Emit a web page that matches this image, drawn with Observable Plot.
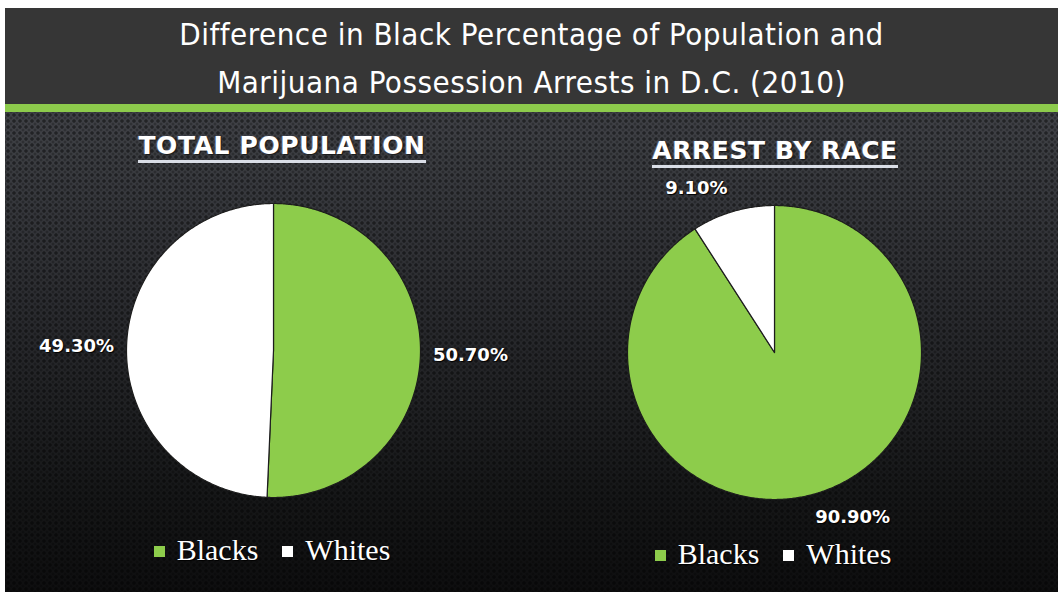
<!DOCTYPE html>
<html>
<head>
<meta charset="utf-8">
<script src="https://cdn.jsdelivr.net/npm/d3@7"></script>
<script src="https://cdn.jsdelivr.net/npm/@observablehq/plot@0.6"></script>
<style>
  html, body { margin: 0; padding: 0; background: #ffffff; width: 1058px; height: 592px; overflow: hidden; }
  #frame { position: absolute; left: 5px; top: 8px; width: 1053px; height: 584px; overflow: hidden; }
  #header { position: absolute; left: 0; top: 0; width: 100%; height: 96px; background: #363636; }
  #header .t { position: absolute; left: 0; width: 100%; text-align: center; color: #fff;
    font-family: "Liberation Sans Narrow", "DejaVu Sans Condensed", Roboto, sans-serif; font-stretch: condensed;
    font-size: 31px; letter-spacing: 0.5px; }
  #greenbar { position: absolute; left: 0; top: 96px; width: 100%; height: 8px; background: #8dcb4c; }
  #bg { position: absolute; left: 0; top: 104px; width: 100%; height: 480px;
    background-image:
      radial-gradient(circle, rgba(0,0,0,0.45) 1.3px, rgba(0,0,0,0) 2.2px),
      radial-gradient(circle, rgba(0,0,0,0.25) 1.0px, rgba(0,0,0,0) 1.8px),
      linear-gradient(#404247 0%, #2b2c30 40%, #161718 80%, #0e0e0f 100%);
    background-size: 6px 6px, 6px 6px, 100% 100%;
    background-position: 0 0, 3px 3px, 0 0; }
  .sect { position: absolute; width: 440px; text-align: center; }
  .sect span { color: #fff; font-family: "DejaVu Sans", sans-serif; font-weight: bold; font-size: 25px;
    letter-spacing: 0.6px; border-bottom: 3px solid #d9dde6; padding-bottom: 0px;
    text-shadow: 1px 1px 1px #1a1a1a, -1px 0 1px rgba(120,140,200,0.6); }
  .legend { position: absolute; width: 400px; text-align: center; color: #fff;
    font-family: "Liberation Serif", "DejaVu Serif", serif; font-size: 30px;
    text-shadow: 1px 1px 1px #000; }
  .legend .sw { display: inline-block; width: 11px; height: 11px; margin-right: 12px; vertical-align: 3px; }
  .legend .item { margin: 0 12px; }
  #chart { position: absolute; left: 0; top: 0; }
  #chart text { text-shadow: 1px 1px 1px #000; }
</style>
</head>
<body>
<div id="frame">
  <div id="header"></div>
  <div id="greenbar"></div>
  <div id="bg"></div>
</div>
<div id="chart"></div>
<script>
// ---- data ----
const chartTitles = ["Difference in Black Percentage of Population and", "Marijuana Possession Arrests in D.C. (2010)"];
const pieNames = ["TOTAL POPULATION", "ARREST BY RACE"];
const races = ["Blacks", "Whites"];
const populationShare = [50.7, 49.3];
const arrestShare = [90.9, 9.1];
const raceColors = ["#8dcc4b", "#ffffff"];

// ---- layout (page pixels) ----
const layout = [
  {cx: 273, cy: 350, r: 147, labelR: 1.34, labelRotate: 0, titleX: 282, titleY: 131, legendX: 272, legendY: 533},
  {cx: 774, cy: 352, r: 147, labelR: 1.24, labelRotate: -9, titleX: 775, titleY: 136, legendX: 773, legendY: 537}
];
const W = 1058, H = 592;

// header
const header = document.getElementById("header");
chartTitles.forEach((t, i) => {
  const d = document.createElement("div");
  d.className = "t";
  d.style.top = (i === 0 ? 8 : 56) + "px";
  d.textContent = t;
  header.appendChild(d);
});

const series = [populationShare, arrestShare];
const pieGen = d3.pie().sort(null).value(d => d.value).startAngle(0).endAngle(2 * Math.PI);

const polys = [];
const labels = [];
series.forEach((vals, p) => {
  const L = layout[p];
  const arcs = pieGen(races.map((race, i) => ({race, value: vals[i]})));
  arcs.forEach(a => {
    const key = pieNames[p] + "|" + a.data.race;
    polys.push({key, race: a.data.race, x: L.cx, y: L.cy});
    const n = Math.max(2, Math.ceil((a.endAngle - a.startAngle) / (Math.PI / 360)));
    for (let k = 0; k <= n; k++) {
      const ang = a.startAngle + (a.endAngle - a.startAngle) * k / n;
      polys.push({key, race: a.data.race, x: L.cx + L.r * Math.sin(ang), y: L.cy - L.r * Math.cos(ang)});
    }
    polys.push({key, race: a.data.race, x: L.cx, y: L.cy});
    const mid = (a.startAngle + a.endAngle) / 2 + L.labelRotate * Math.PI / 180;
    labels.push({
      x: L.cx + L.r * L.labelR * Math.sin(mid),
      y: L.cy - L.r * L.labelR * Math.cos(mid),
      text: a.data.value.toFixed(2) + "%"
    });
  });
});

const plot = Plot.plot({
  width: W, height: H, margin: 0,
  x: {domain: [0, W], range: [0, W], axis: null},
  y: {domain: [0, H], range: [0, H], axis: null},
  color: {domain: races, range: raceColors},
  style: {background: "transparent", overflow: "visible"},
  marks: [
    Plot.line(polys, {x: "x", y: "y", z: "key", fill: "race", stroke: "#1d1d1d", strokeWidth: 1.2, strokeLinejoin: "round"}),
    Plot.text(labels, {x: "x", y: "y", text: "text", fill: "#ffffff", fontSize: 18, fontWeight: "bold",
      fontFamily: "DejaVu Sans, sans-serif"})
  ]
});
document.getElementById("chart").appendChild(plot);

// section titles and legends
layout.forEach((L, p) => {
  const s = document.createElement("div");
  s.className = "sect";
  s.style.left = (L.titleX - 220) + "px";
  s.style.top = L.titleY + "px";
  const sp = document.createElement("span");
  sp.textContent = pieNames[p];
  s.appendChild(sp);
  document.body.appendChild(s);

  const lg = document.createElement("div");
  lg.className = "legend";
  lg.style.left = (L.legendX - 200) + "px";
  lg.style.top = L.legendY + "px";
  races.forEach((race, i) => {
    const it = document.createElement("span");
    it.className = "item";
    const sw = document.createElement("span");
    sw.className = "sw";
    sw.style.background = raceColors[i];
    it.appendChild(sw);
    it.appendChild(document.createTextNode(race));
    lg.appendChild(it);
  });
  document.body.appendChild(lg);
});
</script>
</body>
</html>
